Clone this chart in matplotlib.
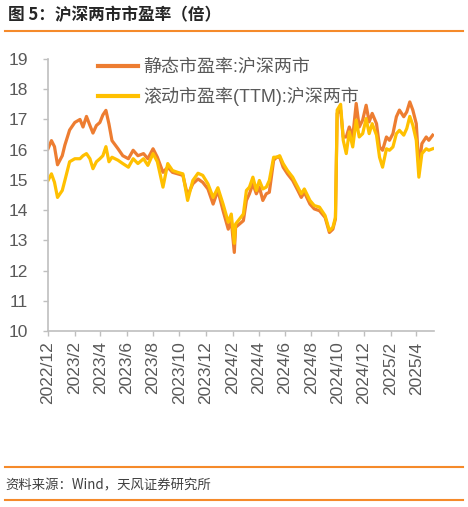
import matplotlib
matplotlib.use("Agg")
import matplotlib.pyplot as plt
from matplotlib.lines import Line2D
import pandas as pd

dates = ["2022-12-01","2022-12-09","2022-12-16","2022-12-23","2023-01-03","2023-01-09","2023-01-20",
         "2023-02-01","2023-02-13","2023-02-20","2023-02-28","2023-03-08","2023-03-15","2023-03-23",
         "2023-03-31","2023-04-07","2023-04-14","2023-04-21","2023-04-28","2023-05-12","2023-05-23",
         "2023-06-05","2023-06-16","2023-06-27","2023-07-10","2023-07-20","2023-08-01","2023-08-11",
         "2023-08-24","2023-09-04","2023-09-15","2023-09-27","2023-10-09","2023-10-20","2023-11-01",
         "2023-11-13","2023-11-24","2023-12-06","2023-12-18","2023-12-29","2024-01-10","2024-01-22",
         "2024-01-29","2024-02-05","2024-02-08","2024-02-26","2024-03-04","2024-03-11","2024-03-19",
         "2024-03-27","2024-04-03","2024-04-11","2024-04-19","2024-04-26","2024-05-06","2024-05-13",
         "2024-05-20","2024-05-28","2024-06-07","2024-06-19","2024-07-01","2024-07-09","2024-07-16",
         "2024-07-29","2024-08-08","2024-08-20","2024-09-02","2024-09-12","2024-09-20","2024-09-26",
         "2024-09-30","2024-10-08","2024-10-14","2024-10-21","2024-10-28","2024-11-05","2024-11-13",
         "2024-11-20","2024-11-28","2024-12-06","2024-12-13","2024-12-20","2024-12-30","2025-01-06",
         "2025-01-13","2025-01-22","2025-01-29","2025-02-06","2025-02-14","2025-02-21","2025-03-03",
         "2025-03-10","2025-03-17","2025-03-24","2025-04-01","2025-04-07","2025-04-14","2025-04-24",
         "2025-04-30","2025-05-09"]

pe_static = [16.03,16.30,16.10,15.50,15.80,16.15,16.65,16.90,17.00,16.75,17.10,16.80,16.55,16.80,
             16.90,17.15,17.30,16.85,16.30,16.03,15.80,15.70,15.98,15.80,15.87,15.70,16.03,15.75,
             15.25,15.42,15.25,15.20,15.15,14.48,14.87,15.03,14.92,14.70,14.20,14.65,13.98,13.37,
             13.65,12.60,13.43,13.65,14.32,14.54,14.87,14.54,14.76,14.32,14.54,14.59,15.65,15.75,
             15.75,15.42,15.20,14.98,14.65,14.42,14.59,14.20,14.04,13.98,13.76,13.26,13.37,13.71,
             17.20,17.31,16.42,16.42,16.75,16.42,17.53,16.75,16.98,17.47,16.92,17.20,16.86,16.09,
             15.98,16.42,16.31,16.53,17.09,17.31,17.09,17.25,17.58,17.31,16.86,15.42,16.20,16.42,
             16.31,16.48]

pe_ttm = [14.98,15.20,14.92,14.42,14.65,14.98,15.60,15.70,15.70,15.80,15.87,15.70,15.37,15.60,
          15.70,15.80,16.10,15.60,15.75,15.65,15.54,15.42,15.70,15.54,15.70,15.48,15.87,15.60,
          14.76,15.54,15.31,15.25,15.20,14.32,14.98,15.22,15.15,14.87,14.42,14.74,14.20,13.60,
          13.87,12.90,13.54,13.87,14.65,14.76,15.09,14.65,14.98,14.70,14.76,14.98,15.75,15.75,
          15.80,15.54,15.31,15.09,14.76,14.54,14.70,14.32,14.15,14.10,13.82,13.32,13.43,13.76,
          17.31,17.50,16.31,15.87,16.59,16.09,16.98,16.42,16.53,17.03,16.53,16.86,16.48,15.75,
          15.42,16.03,15.98,16.09,16.53,16.64,16.48,16.70,17.10,16.81,16.31,15.09,15.87,16.03,
          15.98,16.03]

tick_dates = ["2022-12-01","2023-02-01","2023-04-01","2023-06-01","2023-08-01","2023-10-01",
              "2023-12-01","2024-02-01","2024-04-01","2024-06-01","2024-08-01","2024-10-01",
              "2024-12-01","2025-02-01","2025-04-01"]
tick_labels = ["2022/12","2023/2","2023/4","2023/6","2023/8","2023/10","2023/12","2024/2",
               "2024/4","2024/6","2024/8","2024/10","2024/12","2025/2","2025/4"]
y_ticks = [10, 11, 12, 13, 14, 15, 16, 17, 18, 19]

series_names = ["静态市盈率:沪深两市", "滚动市盈率(TTM):沪深两市"]
title = "图 5：沪深两市市盈率（倍）"
source = "资料来源：Wind，天风证券研究所"

FAM = ["Liberation Sans", "Noto Sans CJK SC", "DejaVu Sans"]
CJK = ["Noto Sans CJK SC", "DejaVu Sans"]
plt.rcParams["font.family"] = FAM

W, H = 468, 507
fig = plt.figure(figsize=(W / 100, H / 100), dpi=100)
ax = fig.add_axes([48 / W, 1 - 331 / H, (434 - 48) / W, (331 - 59) / H])

d = pd.to_datetime(dates)
ax.plot(d, pe_static, color="#ED7D31", lw=2.3, label=series_names[0], solid_joinstyle="round")
ax.plot(d, pe_ttm, color="#FFC000", lw=2.3, label=series_names[1], solid_joinstyle="round")

ax.set_ylim(10, 19)
ax.set_yticks(y_ticks)
ax.set_xlim(pd.Timestamp("2022-12-01"), pd.Timestamp("2025-05-12"))
ax.set_xticks(pd.to_datetime(tick_dates))
ax.set_xticklabels(tick_labels, rotation=90, fontsize=12.5, color="#595959")
for lab in ax.get_yticklabels():
    lab.set_fontsize(12.5)
    lab.set_color("#595959")

for s in ["top", "right"]:
    ax.spines[s].set_visible(False)
for s in ["left", "bottom"]:
    ax.spines[s].set_color("#BFBFBF")
    ax.spines[s].set_linewidth(1.2)
ax.tick_params(axis="both", direction="out", length=3.5, width=1.0, color="#BFBFBF", pad=4)
ax.tick_params(axis="y", pad=11)

leg = ax.legend(loc="upper left", bbox_to_anchor=(50 / 386, 1.0), frameon=False,
                borderpad=0, borderaxespad=0,
                handlelength=2.2, handletextpad=0.3, labelspacing=0.6,
                prop={"family": FAM, "size": 13})
for t in leg.get_texts():
    t.set_color("#595959")
for h in leg.get_lines():
    h.set_linewidth(3)

fig.text(8 / W, 1 - 15 / H, title, fontsize=12, fontweight="bold", color="#262626",
         va="center", ha="left", family=CJK)
fig.text(5 / W, 1 - 485 / H, source, fontsize=9.6, color="#404040",
         va="center", ha="left", family=CJK)
for yy in [31, 467, 500]:
    fig.add_artist(Line2D([5 / W, 463 / W], [1 - yy / H, 1 - yy / H], color="#F58A2A",
                          lw=1.5, transform=fig.transFigure))

fig.savefig("out.png", dpi=100)
